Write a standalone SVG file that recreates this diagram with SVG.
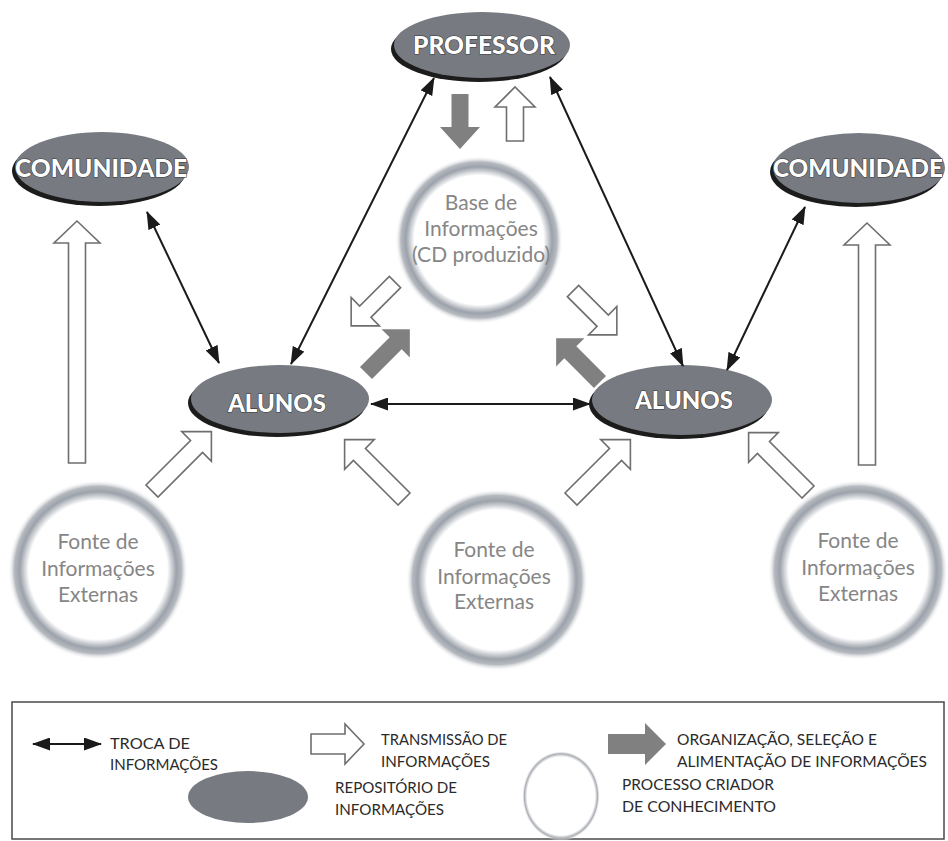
<svg xmlns="http://www.w3.org/2000/svg" width="948" height="841" viewBox="0 0 948 841">
<defs>
  <radialGradient id="ring" cx="0.5" cy="0.5" r="0.5">
    <stop offset="0" stop-color="#ffffff"/>
    <stop offset="0.77" stop-color="#ffffff"/>
    <stop offset="0.87" stop-color="#9ca2ab"/>
    <stop offset="0.93" stop-color="#b6bac0"/>
    <stop offset="1" stop-color="#ffffff" stop-opacity="0"/>
  </radialGradient>
  <radialGradient id="ringThin" cx="0.5" cy="0.5" r="0.5">
    <stop offset="0" stop-color="#ffffff"/>
    <stop offset="0.87" stop-color="#ffffff"/>
    <stop offset="0.94" stop-color="#a8acb2"/>
    <stop offset="1" stop-color="#ffffff" stop-opacity="0"/>
  </radialGradient>
  <marker id="ah" viewBox="0 0 18 13" refX="17" refY="6.5" markerWidth="18" markerHeight="13" markerUnits="userSpaceOnUse" orient="auto-start-reverse">
    <path d="M0,0 L18,6.5 L0,13 Z" fill="#1a1a1a"/>
  </marker>
  <style>
    .shadow { fill: #1c1c1c; }
    .repo { fill: #777b81; }
    .lbl { font-family: Lato, "Open Sans", sans-serif; font-weight: 900; fill: #ffffff; stroke: #3a3a3a; stroke-width: 1.2; paint-order: stroke; text-anchor: middle; font-size: 25px; }
    .ctext { font-family: Lato, "Open Sans", sans-serif; font-size: 21px; fill: #868686; text-anchor: middle; }
    .dbl { stroke: #1a1a1a; stroke-width: 2; fill: none; marker-start: url(#ah); marker-end: url(#ah); }
    .hollow { fill: #ffffff; stroke: #6e6e6e; stroke-width: 1.6; stroke-linejoin: miter; }
    .solid { fill: #808080; stroke: none; }
    .leg { font-family: Lato, "Open Sans", sans-serif; font-size: 15px; fill: #2a2a2a; }
  </style>
</defs>
<rect width="948" height="841" fill="#ffffff"/>

<!-- circles (knowledge creation processes) -->
<g id="base">
  <circle cx="479" cy="240" r="84" fill="url(#ring)"/>
  <text class="ctext" x="481" y="210">Base de</text>
  <text class="ctext" x="481" y="236">Informações</text>
  <text class="ctext" x="481" y="262">(CD produzido)</text>
</g>
<g id="fonte1">
  <circle cx="98" cy="570" r="90" fill="url(#ring)"/>
  <text class="ctext" x="98" y="549">Fonte de</text>
  <text class="ctext" x="98" y="576">Informações</text>
  <text class="ctext" x="98" y="602">Externas</text>
</g>
<g id="fonte2">
  <circle cx="497" cy="580" r="91" fill="url(#ring)"/>
  <text class="ctext" x="494" y="557">Fonte de</text>
  <text class="ctext" x="494" y="584">Informações</text>
  <text class="ctext" x="494" y="609">Externas</text>
</g>
<g id="fonte3">
  <circle cx="858" cy="570" r="90" fill="url(#ring)"/>
  <text class="ctext" x="858" y="548">Fonte de</text>
  <text class="ctext" x="858" y="575">Informações</text>
  <text class="ctext" x="858" y="601">Externas</text>
</g>

<!-- repositories -->
<g id="professor">
  <ellipse class="shadow" cx="479" cy="49" rx="88" ry="33"/>
  <ellipse class="repo" cx="482" cy="45" rx="88" ry="33"/>
  <text class="lbl" x="484" y="54" textLength="142" lengthAdjust="spacingAndGlyphs">PROFESSOR</text>
</g>
<g id="comunidade1">
  <ellipse class="shadow" cx="99" cy="171" rx="87" ry="35"/>
  <ellipse class="repo" cx="102" cy="167" rx="87" ry="35"/>
  <text class="lbl" x="101" y="177" textLength="172" lengthAdjust="spacingAndGlyphs">COMUNIDADE</text>
</g>
<g id="comunidade2">
  <ellipse class="shadow" cx="856" cy="172" rx="86" ry="35"/>
  <ellipse class="repo" cx="859" cy="168" rx="86" ry="35"/>
  <text class="lbl" x="858" y="177" textLength="170" lengthAdjust="spacingAndGlyphs">COMUNIDADE</text>
</g>
<g id="alunos1">
  <ellipse class="shadow" cx="277" cy="403" rx="89" ry="34"/>
  <ellipse class="repo" cx="280" cy="399" rx="89" ry="34"/>
  <text class="lbl" x="277" y="412" textLength="98" lengthAdjust="spacingAndGlyphs">ALUNOS</text>
</g>
<g id="alunos2">
  <ellipse class="shadow" cx="679" cy="404" rx="90" ry="35"/>
  <ellipse class="repo" cx="682" cy="400" rx="90" ry="35"/>
  <text class="lbl" x="684" y="409" textLength="98" lengthAdjust="spacingAndGlyphs">ALUNOS</text>
</g>

<!-- connectors -->
<g id="connectors">
  <!-- exchange (double-headed) -->
  <line class="dbl" x1="434" y1="78" x2="291" y2="364"/>
  <line class="dbl" x1="550" y1="77" x2="683" y2="366"/>
  <line class="dbl" x1="147" y1="212" x2="219" y2="363"/>
  <line class="dbl" x1="805" y1="207" x2="727" y2="370"/>
  <line class="dbl" x1="371" y1="404" x2="590" y2="404"/>

  <!-- transmission (hollow) -->
  <path class="hollow" transform="translate(77,463) rotate(-90)" d="M0,-8.5 H220 V-23 L242,0 L220,23 V8.5 H0 Z"/>
  <path class="hollow" transform="translate(867,465) rotate(-90)" d="M0,-8.5 H220 V-23 L242,0 L220,23 V8.5 H0 Z"/>
  <path class="hollow" transform="translate(152,491) rotate(-45)" d="M0,-8.5 H63 V-21 L84,0 L63,21 V8.5 H0 Z"/>
  <path class="hollow" transform="translate(404,499) rotate(-135)" d="M0,-8.5 H63 V-21 L84,0 L63,21 V8.5 H0 Z"/>
  <path class="hollow" transform="translate(571,499) rotate(-45)" d="M0,-8.5 H63 V-21 L84,0 L63,21 V8.5 H0 Z"/>
  <path class="hollow" transform="translate(808,492) rotate(-135)" d="M0,-8.5 H63 V-21 L84,0 L63,21 V8.5 H0 Z"/>
  <path class="hollow" transform="translate(515,141) rotate(-90)" d="M0,-8.5 H34 V-20 L54,0 L34,20 V8.5 H0 Z"/>
  <path class="hollow" transform="translate(395,282) rotate(135)" d="M0,-8 H42 V-20 L62,0 L42,20 V8 H0 Z"/>
  <path class="hollow" transform="translate(573,291) rotate(45)" d="M0,-8 H42 V-20 L62,0 L42,20 V8 H0 Z"/>

  <!-- organization / selection (solid gray) -->
  <path class="solid" transform="translate(460,94) rotate(90)" d="M0,-8.5 H33 V-20 L55,0 L33,20 V8.5 H0 Z"/>
  <path class="solid" transform="translate(366,373) rotate(-45)" d="M0,-8.5 H42 V-20 L62,0 L42,20 V8.5 H0 Z"/>
  <path class="solid" transform="translate(600,382) rotate(-135)" d="M0,-8.5 H42 V-20 L62,0 L42,20 V8.5 H0 Z"/>
</g>

<!-- legend -->
<g id="legend">
  <rect x="12" y="702" width="932" height="137" fill="none" stroke="#4a4a4a" stroke-width="1.5"/>
  <line class="dbl" x1="33" y1="744" x2="101" y2="744"/>
  <text class="leg" x="110" y="749" textLength="80" lengthAdjust="spacingAndGlyphs">TROCA DE</text>
  <text class="leg" x="110" y="770" textLength="108" lengthAdjust="spacingAndGlyphs">INFORMAÇÕES</text>

  <path class="hollow" transform="translate(311,744)" d="M0,-10 H34 V-20 L53,0 L34,20 V10 H0 Z"/>
  <text class="leg" x="381" y="745" textLength="126" lengthAdjust="spacingAndGlyphs">TRANSMISSÃO DE</text>
  <text class="leg" x="381" y="767" textLength="109" lengthAdjust="spacingAndGlyphs">INFORMAÇÕES</text>

  <path class="solid" transform="translate(608,744)" d="M0,-10 H37 V-21 L58,0 L37,21 V10 H0 Z"/>
  <text class="leg" x="677" y="745" textLength="200" lengthAdjust="spacingAndGlyphs">ORGANIZAÇÃO, SELEÇÃO E</text>
  <text class="leg" x="677" y="767" textLength="250" lengthAdjust="spacingAndGlyphs">ALIMENTAÇÃO DE INFORMAÇÕES</text>

  <ellipse class="repo" cx="248" cy="797" rx="60" ry="26"/>
  <text class="leg" x="335" y="793" textLength="122" lengthAdjust="spacingAndGlyphs">REPOSITÓRIO DE</text>
  <text class="leg" x="335" y="815" textLength="109" lengthAdjust="spacingAndGlyphs">INFORMAÇÕES</text>

  <ellipse cx="561" cy="796" rx="39" ry="45" fill="url(#ringThin)"/>
  <text class="leg" x="622" y="790" textLength="152" lengthAdjust="spacingAndGlyphs">PROCESSO CRIADOR</text>
  <text class="leg" x="622" y="812" textLength="154" lengthAdjust="spacingAndGlyphs">DE CONHECIMENTO</text>
</g>
</svg>
